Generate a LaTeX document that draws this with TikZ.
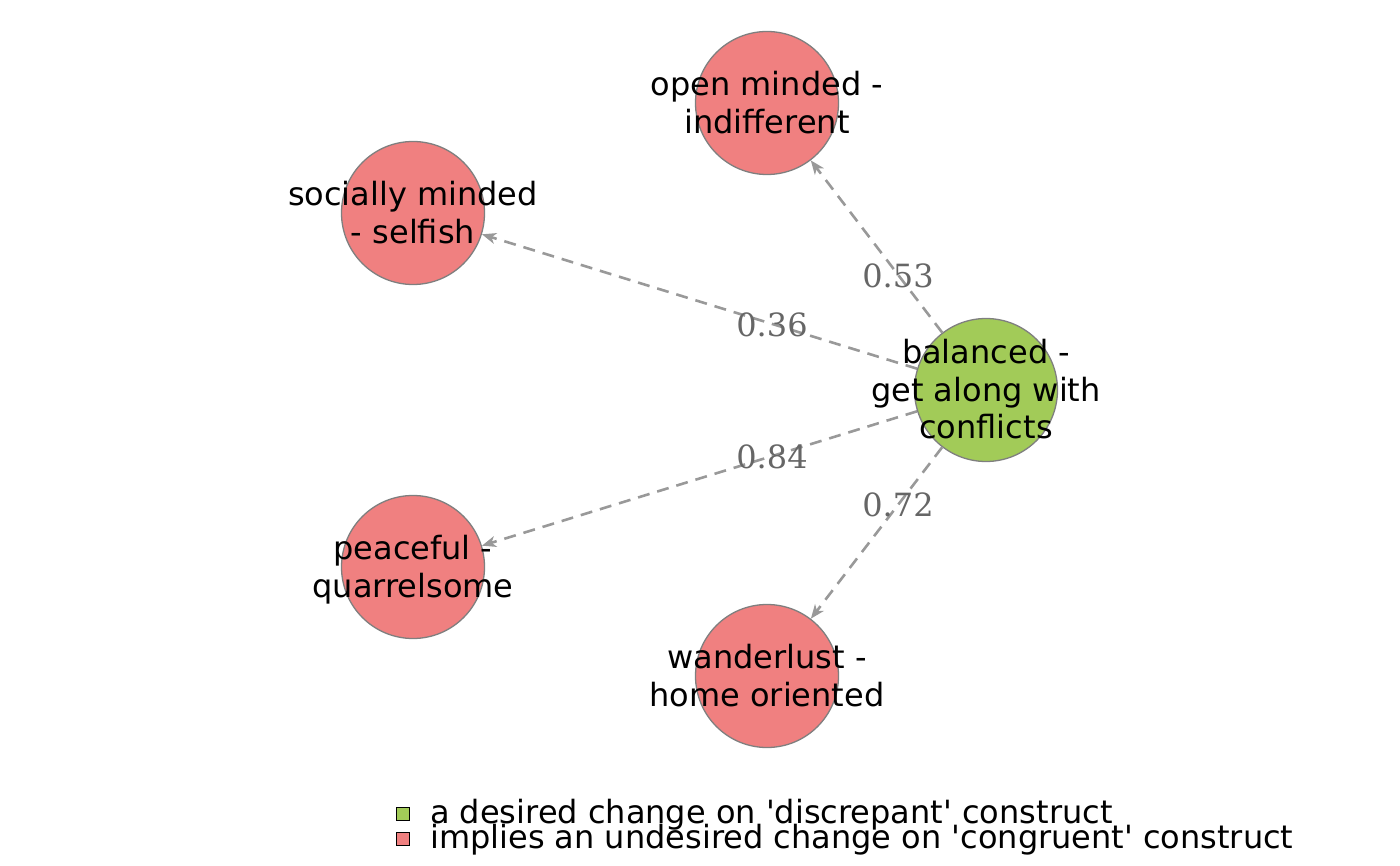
\documentclass[tikz,border=0pt]{standalone}
\usepackage{fontspec}
\setmainfont{DejaVu Sans}
\newfontfamily\labfont{DejaVu Serif}
\usetikzlibrary{arrows.meta}
\definecolor{nred}{HTML}{F08080}
\definecolor{ngreen}{HTML}{A2CB58}
\definecolor{edgegrey}{HTML}{999999}
\definecolor{labgrey}{HTML}{666666}
\definecolor{bordergrey}{HTML}{7F7F7F}
\newcommand{\ntext}[1]{\makebox[0pt][c]{\raisebox{-4pt}[\height][\depth]{\begin{tabular}{@{}c@{}}#1\end{tabular}}}}
\tikzset{
  cnode/.style={circle, draw=bordergrey, line width=1.3pt, minimum size=143pt, inner sep=0pt,
    font=\fontsize{32}{37.5}\selectfont, text=black},
  redn/.style={cnode, fill=nred},
  greenn/.style={cnode, fill=ngreen},
  edge/.style={draw=edgegrey, line width=2.6pt, dash pattern=on 12pt off 8pt,
    -{Stealth[length=14pt,width=11pt,inset=4pt]}},
  elab/.style={text=labgrey, font=\labfont\fontsize{32}{36}\selectfont, inner sep=0pt},
  legbox/.style={draw=black, line width=1.5pt, minimum size=13pt, inner sep=0pt},
  legtext/.style={anchor=west, font=\fontsize{32}{37.5}\selectfont, inner sep=0pt}
}
\begin{document}
\begin{tikzpicture}[x=1pt,y=-1pt]
\useasboundingbox (0,0) rectangle (1400,866);
\node[redn] (open) at (767,103) {\ntext{open minded -\\indifferent}};
\node[redn] (social) at (413,213) {\ntext{socially minded\\- selfish}};
\node[greenn] (bal) at (986,390) {\ntext{balanced -\\get along with\\conflicts}};
\node[redn] (peace) at (413,567) {\ntext{peaceful -\\quarrelsome}};
\node[redn] (wander) at (767,676) {\ntext{wanderlust -\\home oriented}};
\draw[edge] (bal) -- (open);
\draw[edge] (bal) -- (social);
\draw[edge] (bal) -- (peace);
\draw[edge] (bal) -- (wander);
\node[elab] (l53) at (898,276) {0.53};
\node[elab] (l36) at (772,325) {0.36};
\node[elab] (l84) at (772,457) {0.84};
\node[elab] (l72) at (898,505) {0.72};
\node[legbox, fill=ngreen] (lb1) at (403,814) {};
\node[legbox, fill=nred] (lb2) at (403,839) {};
\node[legtext] (lt1) at (430,815) {a desired change on \textquotesingle discrepant\textquotesingle{} construct};
\node[legtext] (lt2) at (430,840) {implies an undesired change on \textquotesingle congruent\textquotesingle{} construct};
\end{tikzpicture}
\end{document}
